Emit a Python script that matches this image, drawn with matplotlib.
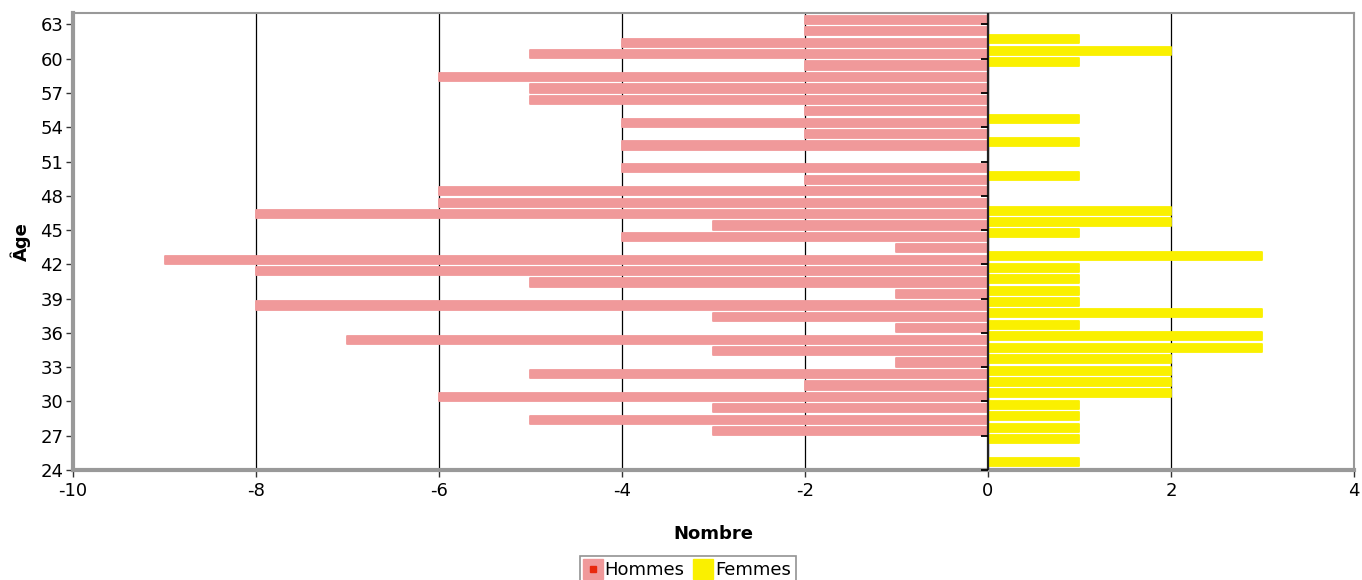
import matplotlib.pyplot as plt
import numpy as np
from matplotlib.lines import Line2D

plt.rcParams["axes.unicode_minus"] = False

# ages from 63 down to 24
ages = np.arange(63, 23, -1)
hommes = [-2, -2, -4, -5, -2, -6, -5, -5, -2, -4,
          -2, -4, 0, -4, -2, -6, -6, -8, -3, -4,
          -1, -9, -8, -5, -1, -8, -3, -1, -7, -3,
          -1, -5, -2, -6, -3, -5, -3, 0, 0, 0]
femmes = [0, 0, 1, 2, 1, 0, 0, 0, 0, 1,
          0, 1, 0, 0, 1, 0, 0, 2, 2, 1,
          0, 3, 1, 1, 1, 1, 3, 1, 3, 3,
          2, 2, 2, 2, 1, 1, 1, 1, 0, 1]
yticks = np.arange(24, 64, 3)
xticks = np.arange(-10, 5, 2)

pink = "#F0999A"
yellow = "#FAF000"

fig = plt.figure(figsize=(13.62, 5.8), dpi=100)
ax = fig.add_axes([0.0536, 0.1897, 0.9405, 0.7879])

# bars with rounded edges so zero values still show a sliver
ax.barh(ages + 0.4, hommes, height=0.72, color=pink, edgecolor=pink,
        linewidth=1.3, joinstyle="round", zorder=2)
ax.barh(ages + 0.7, femmes, height=0.7, color=yellow, edgecolor=yellow,
        linewidth=1.3, joinstyle="round", zorder=3)

ax.set_xlim(-10, 4)
ax.set_ylim(24, 64)
ax.set_xticks(xticks)
ax.set_yticks(yticks)
ax.grid(axis="x", color="black", linewidth=0.9, zorder=1)
ax.set_axisbelow(True)

# zero line with its own little ticks
ax.axvline(0, color="#222222", linewidth=1.6, zorder=4)
ax.plot(np.zeros(len(yticks)), yticks, ls="none", marker=0, ms=5,
        mew=1.3, color="black", zorder=5, clip_on=False)

ax.tick_params(axis="both", labelsize=13, length=5, width=1,
               color="#333333", direction="out")
ax.tick_params(axis="y", pad=2)

for side in ["left", "bottom"]:
    ax.spines[side].set_color("#999999")
    ax.spines[side].set_linewidth(3)
for side in ["top", "right"]:
    ax.spines[side].set_color("#999999")
    ax.spines[side].set_linewidth(1.5)

ax.set_xlabel("Nombre", fontsize=13, fontweight="bold", labelpad=18)
ax.set_ylabel("Âge", fontsize=13, fontweight="bold", labelpad=7)

h_big = Line2D([], [], marker="s", ms=15, color=pink, ls="none")
h_dot = Line2D([], [], marker="s", ms=5, color="#E8280C", ls="none")
f_big = Line2D([], [], marker="s", ms=15, color=yellow, ls="none")
leg = fig.legend([(h_big, h_dot), f_big], ["Hommes", "Femmes"],
                 loc="lower center", bbox_to_anchor=(0.505, -0.006),
                 ncol=2, fontsize=13, frameon=True, fancybox=False,
                 edgecolor="#777777", handlelength=0.9, handletextpad=0.2,
                 columnspacing=0.6, borderpad=0.25, borderaxespad=0)
leg.get_frame().set_linewidth(1.2)

fig.savefig("out.png", dpi=100)
